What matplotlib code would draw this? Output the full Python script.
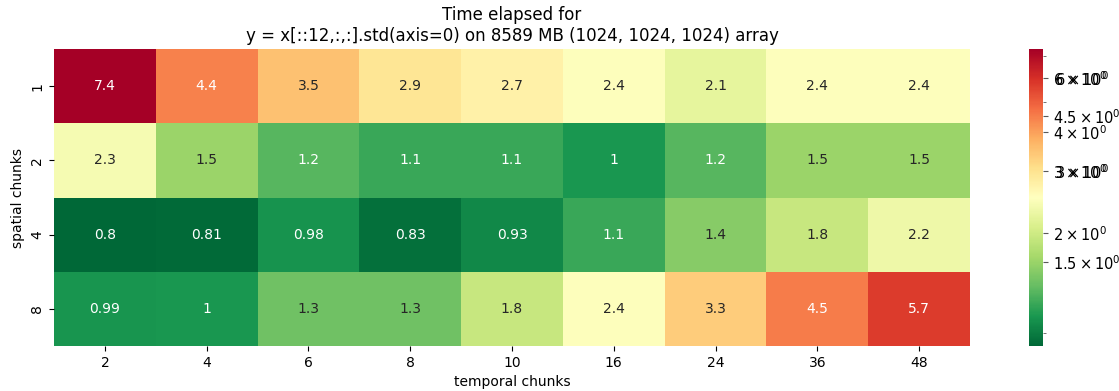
import numpy as np
import matplotlib
matplotlib.use("Agg")
import matplotlib.pyplot as plt
import seaborn as sns
from matplotlib.colors import LogNorm
import matplotlib.transforms as mtransforms

temporal_chunks = [2, 4, 6, 8, 10, 16, 24, 36, 48]
spatial_chunks = [1, 2, 4, 8]
times = np.array([
    [7.4, 4.4, 3.5, 2.9, 2.7, 2.4, 2.1, 2.4, 2.4],
    [2.3, 1.5, 1.2, 1.1, 1.1, 1.0, 1.2, 1.5, 1.5],
    [0.8, 0.81, 0.98, 0.83, 0.93, 1.1, 1.4, 1.8, 2.2],
    [0.99, 1.0, 1.3, 1.3, 1.8, 2.4, 3.3, 4.5, 5.7],
])
cbar_major_ticks = [1.5, 1.86, 2.97, 3.98, 4.47, 5.94]
cbar_major_labels = ["1.5", "2", "3", "4", "4.5", "6"]
cbar_doubled = ["3", "6"]
cbar_minor_ticks = [0.88, 4.98, 7.0]

W, H = 1119, 391
fig = plt.figure(figsize=(W / 100, H / 100), dpi=100)
ax = fig.add_axes([54 / W, (H - 346) / H, (970 - 54) / W, (346 - 49) / H])
cax = fig.add_axes([1029 / W, (H - 346) / H, 14 / W, (346 - 49) / H])

sns.heatmap(times, ax=ax, cbar_ax=cax, cmap="RdYlGn_r",
            norm=LogNorm(vmin=times.min(), vmax=times.max()),
            annot=True, xticklabels=temporal_chunks, yticklabels=spatial_chunks)
ax.set_xlabel("temporal chunks")
ax.set_ylabel("spatial chunks")
ax.set_title("Time elapsed for\ny = x[::12,:,:].std(axis=0) on 8589 MB (1024, 1024, 1024) array")

def lab(s):
    return r"$\mathdefault{%s\times10^{0}}$" % s

cax.yaxis.set_major_locator(matplotlib.ticker.FixedLocator(cbar_major_ticks))
cax.yaxis.set_major_formatter(matplotlib.ticker.FixedFormatter([lab(s) for s in cbar_major_labels]))
cax.yaxis.set_minor_locator(matplotlib.ticker.FixedLocator(cbar_minor_ticks))
cax.yaxis.set_minor_formatter(matplotlib.ticker.NullFormatter())
cax.tick_params(which="major", length=3.5, width=0.8, color="0.35", labelsize=10.5)
cax.tick_params(which="minor", length=2, width=0.6, color="0.35")

offset = mtransforms.ScaledTranslation(7 / 72 + 2 / 100, 0, fig.dpi_scale_trans)
for s, v in zip(cbar_major_labels, cbar_major_ticks):
    if s in cbar_doubled:
        cax.text(1.0, v, lab(s), transform=cax.get_yaxis_transform() + offset,
                 ha="left", va="center_baseline", fontsize=10.5, color="black")

fig.savefig("out.png", dpi=100)
